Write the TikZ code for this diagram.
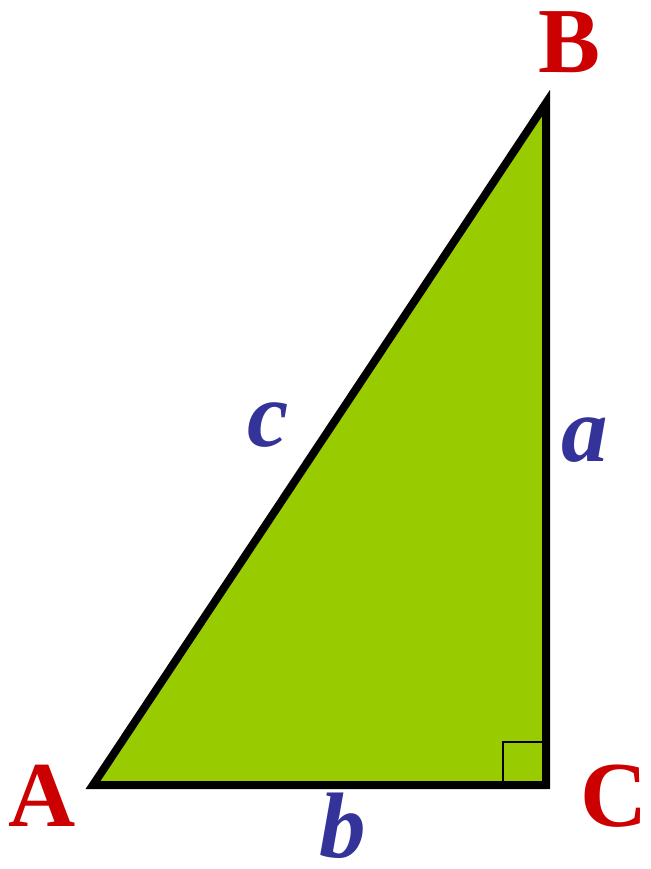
\documentclass[tikz,border=0pt]{standalone}
\usepackage{fontspec}
\setmainfont{Liberation Serif}
\usepackage{xcolor}
\usetikzlibrary{positioning}
\definecolor{vertexred}{HTML}{CC0000}
\definecolor{sideblue}{HTML}{333399}
\definecolor{trifill}{HTML}{99CC00}

\begin{document}
\begin{tikzpicture}[x=1pt, y=-1pt,
  vertexlabel/.style={inner sep=0pt, text=vertexred, font=\fontsize{93}{100}\selectfont\bfseries},
  sidelabel/.style={inner sep=0pt, text=sideblue, font=\fontsize{93}{100}\selectfont\bfseries\itshape},
  triedge/.style={draw=black, line width=8pt, fill=trifill},
  rightmark/.style={draw=black, line width=1.6pt}
]
\useasboundingbox (0,0) rectangle (650,869);

\coordinate (vA) at (93,785);
\coordinate (vB) at (546,103);
\coordinate (vC) at (546,785);

% triangle
\draw[triedge] (vA) -- (vC) -- (vB) -- cycle;

% right angle at C
\draw[rightmark] ([xshift=-43pt]vC) -- ++(0,-43) -- ++(43,0);

% vertex names
\node[vertexlabel] (labA) at (42,796) {A};
\node[vertexlabel] (labB) at (570,42) {B};
\node[vertexlabel] (labC) at (614,796) {C};

% side names
\node[sidelabel] (labc) at (268,425) {c};
\node[sidelabel] (laba) at (585,440) {a};
\node[sidelabel] (labb) at (343,826) {b};

\end{tikzpicture}
\end{document}
